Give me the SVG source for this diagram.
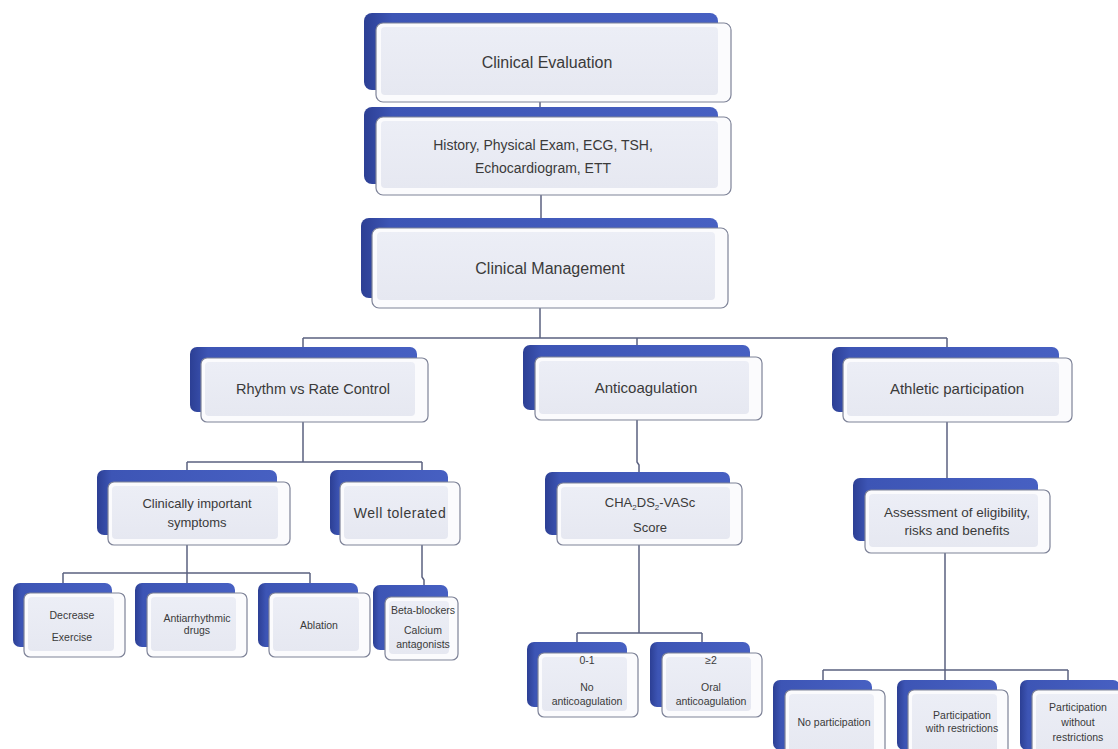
<svg xmlns="http://www.w3.org/2000/svg" width="1118" height="749" viewBox="0 0 1118 749">
<defs>
<linearGradient id="blueG" x1="0" y1="0" x2="1" y2="0">
<stop offset="0" stop-color="#2c3f94"/>
<stop offset="0.08" stop-color="#3d55b5"/>
<stop offset="1" stop-color="#4760c2"/>
</linearGradient>
<linearGradient id="faceG" x1="0" y1="0" x2="0" y2="1">
<stop offset="0" stop-color="#eceef6"/>
<stop offset="1" stop-color="#e6e8f1"/>
</linearGradient>
</defs>
<style>
.back{fill:url(#blueG);}
.face{fill:#fbfbfd;stroke:#7e8398;stroke-width:1.2;}
.inner{fill:url(#faceG);}
.t{font-family:"Liberation Sans",Arial,sans-serif;fill:#3a3a3a;text-anchor:middle;}
.conn{fill:none;stroke:#5b6180;stroke-width:1.5;}
</style>
<rect width="1118" height="749" fill="#ffffff"/>

<g id="connectors">
<path class="conn" d="M540 102 V117"/>
<path class="conn" d="M541 195 V228"/>
<path class="conn" d="M540 308 V338 M303 338 H947 M303 338 V347 M637 338 V345 M947 338 V347"/>
<path class="conn" d="M303 422 V462 M187 462 H422 M187 462 V470 M422 462 V470"/>
<path class="conn" d="M187 545 V573 M63 573 H310 M63 573 V583 M187 573 V583 M310 573 V583"/>
<path class="conn" d="M422 545 V577 L424 580 V585"/>
<path class="conn" d="M637 420 V462 L639 465 V472"/>
<path class="conn" d="M639 545 V633 M577 633 H702 M577 633 V642 M702 633 V642"/>
<path class="conn" d="M947 422 V478"/>
<path class="conn" d="M945 553 V670 M823 670 H1068 M823 670 V680 M945 670 V680 M1068 670 V680"/>
</g>

<g id="n-eval">
<rect class="back" x="364" y="13" width="354" height="77" rx="8"/>
<rect class="face" x="376" y="23" width="355" height="79" rx="7"/>
<rect class="inner" x="381" y="27" width="337" height="68" rx="4"/>
<text class="t" x="547" y="68" font-size="16">Clinical  Evaluation</text>
</g>

<g id="n-history">
<rect class="back" x="364" y="107" width="354" height="77" rx="8"/>
<rect class="face" x="376" y="117" width="355" height="78" rx="7"/>
<rect class="inner" x="381" y="121" width="337" height="67" rx="4"/>
<text class="t" x="543" y="150" font-size="14">History, Physical Exam, ECG, TSH,</text>
<text class="t" x="543" y="173" font-size="14">Echocardiogram, ETT</text>
</g>

<g id="n-mgmt">
<rect class="back" x="361" y="218" width="357" height="80" rx="8"/>
<rect class="face" x="372" y="228" width="356" height="80" rx="7"/>
<rect class="inner" x="377" y="232" width="338" height="68" rx="4"/>
<text class="t" x="550" y="274" font-size="16">Clinical  Management</text>
</g>

<g id="n-rhythm">
<rect class="back" x="190" y="347" width="227" height="65" rx="7"/>
<rect class="face" x="201" y="358" width="227" height="64" rx="6"/>
<rect class="inner" x="205" y="362" width="210" height="54" rx="4"/>
<text class="t" x="313" y="394" font-size="14.5">Rhythm vs Rate Control</text>
</g>

<g id="n-anticoag">
<rect class="back" x="523" y="345" width="227" height="65" rx="7"/>
<rect class="face" x="535" y="357" width="227" height="63" rx="6"/>
<rect class="inner" x="539" y="361" width="210" height="53" rx="4"/>
<text class="t" x="646" y="393" font-size="15">Anticoagulation</text>
</g>

<g id="n-athletic">
<rect class="back" x="832" y="347" width="227" height="65" rx="7"/>
<rect class="face" x="843" y="358" width="229" height="64" rx="6"/>
<rect class="inner" x="847" y="362" width="212" height="54" rx="4"/>
<text class="t" x="957" y="394" font-size="15">Athletic participation</text>
</g>

<g id="n-clinically">
<rect class="back" x="97" y="470" width="180" height="65" rx="7"/>
<rect class="face" x="108" y="482" width="182" height="63" rx="6"/>
<rect class="inner" x="112" y="486" width="166" height="53" rx="4"/>
<text class="t" x="197" y="508" font-size="13">Clinically important</text>
<text class="t" x="197" y="527" font-size="13">symptoms</text>
</g>

<g id="n-well">
<rect class="back" x="330" y="470" width="118" height="65" rx="7"/>
<rect class="face" x="340" y="482" width="120" height="63" rx="6"/>
<rect class="inner" x="344" y="486" width="104" height="53" rx="4"/>
<text class="t" x="400" y="518" font-size="14" letter-spacing="0.5">Well tolerated</text>
</g>

<g id="n-decrease">
<rect class="back" x="13" y="583" width="99" height="64" rx="7"/>
<rect class="face" x="24" y="593" width="101" height="64" rx="6"/>
<rect class="inner" x="28" y="597" width="86" height="54" rx="4"/>
<text class="t" x="72" y="619" font-size="10.5">Decrease</text>
<text class="t" x="72" y="641" font-size="10.5">Exercise</text>
</g>

<g id="n-antiarr">
<rect class="back" x="135" y="583" width="100" height="64" rx="7"/>
<rect class="face" x="147" y="593" width="100" height="64" rx="6"/>
<rect class="inner" x="151" y="597" width="85" height="54" rx="4"/>
<text class="t" x="197" y="622" font-size="10.5">Antiarrhythmic</text>
<text class="t" x="197" y="634" font-size="10.5">drugs</text>
</g>

<g id="n-ablation">
<rect class="back" x="258" y="583" width="100" height="64" rx="7"/>
<rect class="face" x="269" y="593" width="101" height="64" rx="6"/>
<rect class="inner" x="273" y="597" width="86" height="54" rx="4"/>
<text class="t" x="319" y="629" font-size="10.5">Ablation</text>
</g>

<g id="n-beta">
<rect class="back" x="373" y="585" width="75" height="65" rx="7"/>
<rect class="face" x="385" y="597" width="73" height="63" rx="6"/>
<rect class="inner" x="389" y="601" width="60" height="53" rx="4"/>
<text class="t" x="423" y="614" font-size="10.5">Beta-blockers</text>
<text class="t" x="423" y="634" font-size="10.5">Calcium</text>
<text class="t" x="423" y="648" font-size="10.5">antagonists</text>
</g>

<g id="n-cha">
<rect class="back" x="545" y="472" width="185" height="63" rx="7"/>
<rect class="face" x="557" y="483" width="185" height="62" rx="6"/>
<rect class="inner" x="561" y="487" width="169" height="52" rx="4"/>
<text class="t" x="650" y="507" font-size="13">CHA<tspan font-size="8" dy="3">2</tspan><tspan dy="-3">DS</tspan><tspan font-size="8" dy="3">2</tspan><tspan dy="-3">-VASc</tspan></text>
<text class="t" x="650" y="532" font-size="13">Score</text>
</g>

<g id="n-01">
<rect class="back" x="527" y="642" width="100" height="65" rx="7"/>
<rect class="face" x="538" y="653" width="100" height="64" rx="6"/>
<rect class="inner" x="542" y="657" width="85" height="54" rx="4"/>
<text class="t" x="587" y="664" font-size="10.5">0-1</text>
<text class="t" x="587" y="691" font-size="10.5">No</text>
<text class="t" x="587" y="705" font-size="10.5">anticoagulation</text>
</g>

<g id="n-ge2">
<rect class="back" x="650" y="642" width="100" height="65" rx="7"/>
<rect class="face" x="662" y="653" width="100" height="64" rx="6"/>
<rect class="inner" x="666" y="657" width="85" height="54" rx="4"/>
<text class="t" x="711" y="664" font-size="10.5">≥2</text>
<text class="t" x="711" y="691" font-size="10.5">Oral</text>
<text class="t" x="711" y="705" font-size="10.5">anticoagulation</text>
</g>

<g id="n-assess">
<rect class="back" x="853" y="478" width="185" height="63" rx="7"/>
<rect class="face" x="865" y="490" width="185" height="63" rx="6"/>
<rect class="inner" x="869" y="494" width="169" height="53" rx="4"/>
<text class="t" x="957" y="517" font-size="13.5">Assessment of eligibility,</text>
<text class="t" x="957" y="535" font-size="13.5">risks and benefits</text>
</g>

<g id="n-nopart">
<rect class="back" x="773" y="680" width="99" height="70" rx="7"/>
<rect class="face" x="785" y="690" width="100" height="66" rx="6"/>
<rect class="inner" x="789" y="694" width="85" height="60" rx="4"/>
<text class="t" x="834" y="726" font-size="10.5">No participation</text>
</g>

<g id="n-partwith">
<rect class="back" x="897" y="680" width="100" height="70" rx="7"/>
<rect class="face" x="908" y="690" width="100" height="66" rx="6"/>
<rect class="inner" x="912" y="694" width="85" height="60" rx="4"/>
<text class="t" x="962" y="719" font-size="10.5">Participation</text>
<text class="t" x="962" y="732" font-size="10.5">with restrictions</text>
</g>

<g id="n-partwithout">
<rect class="back" x="1020" y="680" width="100" height="70" rx="7"/>
<rect class="face" x="1032" y="690" width="100" height="66" rx="6"/>
<rect class="inner" x="1036" y="694" width="85" height="60" rx="4"/>
<text class="t" x="1078" y="711" font-size="10.5">Participation</text>
<text class="t" x="1078" y="726" font-size="10.5">without</text>
<text class="t" x="1078" y="741" font-size="10.5">restrictions</text>
</g>
</svg>
